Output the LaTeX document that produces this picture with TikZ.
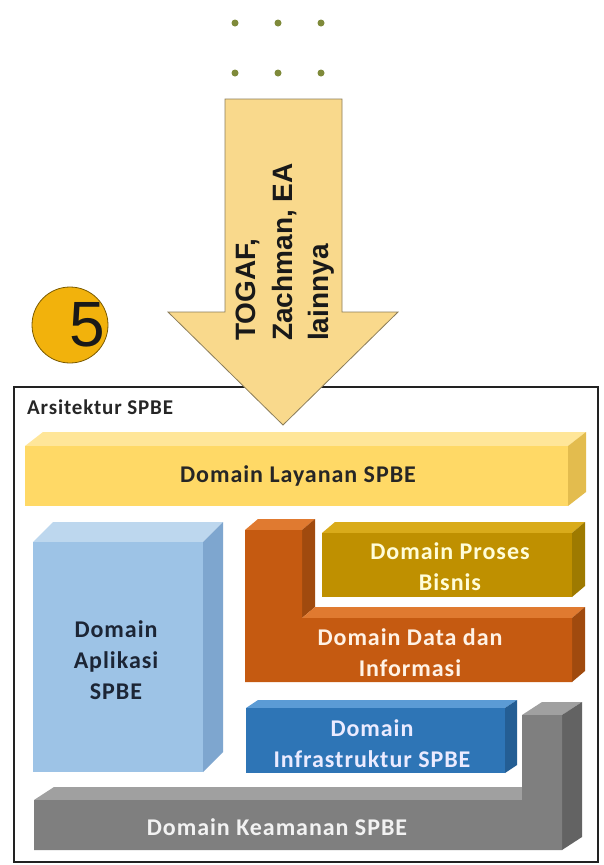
\documentclass[tikz,border=0pt]{standalone}
\usepackage{fontspec}
\setmainfont{Carlito}[LetterSpace=4]
\newfontfamily\arialf{Liberation Sans}
\usetikzlibrary{calc}

% palette
\definecolor{arrowfill}{HTML}{F9D98C}
\definecolor{arrowline}{HTML}{8B7D5A}
\definecolor{dotcol}{HTML}{7F8A3A}
\definecolor{badgefill}{HTML}{F2B20C}
\definecolor{badgeline}{HTML}{7A5A00}
\definecolor{frameline}{HTML}{222222}
\definecolor{navytext}{HTML}{1C2535}
\definecolor{layF}{HTML}{FFD966}\definecolor{layT}{HTML}{FFE699}\definecolor{layS}{HTML}{E3BC4E}
\definecolor{aplF}{HTML}{9DC3E6}\definecolor{aplT}{HTML}{BDD7EE}\definecolor{aplS}{HTML}{7EA6CF}
\definecolor{proF}{HTML}{BF9000}\definecolor{proT}{HTML}{D9AB1A}\definecolor{proS}{HTML}{9E7A00}
\definecolor{datF}{HTML}{C55A11}\definecolor{datT}{HTML}{E07A30}\definecolor{datS}{HTML}{A04A0E}
\definecolor{infF}{HTML}{2E75B6}\definecolor{infT}{HTML}{5B9BD5}\definecolor{infS}{HTML}{245E94}
\definecolor{keaF}{HTML}{7F7F7F}\definecolor{keaT}{HTML}{A0A0A0}\definecolor{keaS}{HTML}{636363}

% 3D slab: x1,y1 (front top-left), x2,y2 (front bottom-right), depth dx,dy, colour prefix
\newcommand{\slabbox}[7]{%
  \fill[#7T] (#1,#2) -- (#1+#5,#2-#6) -- (#3+#5,#2-#6) -- (#3,#2) -- cycle;
  \fill[#7S] (#3,#2) -- (#3+#5,#2-#6) -- (#3+#5,#4-#6) -- (#3,#4) -- cycle;
  \fill[#7F] (#1,#2) rectangle (#3,#4);
}

\tikzset{
  domtext/.style={font=\bfseries\fontsize{24}{31}\selectfont, align=center, inner sep=0pt},
  arrowtext/.style={font=\arialf\bfseries\fontsize{28}{30}\selectfont, rotate=90, anchor=base west, inner sep=0pt, text=black!90},
  dotstyle/.style={circle, fill=dotcol, minimum size=7pt, inner sep=0pt},
}

\begin{document}
\begin{tikzpicture}[x=1pt,y=-1pt]
\useasboundingbox (0,0) rectangle (603,865);
\fill[white] (0,0) rectangle (603,865);

% ellipsis dots
\foreach \i/\xx in {1/235,2/278,3/321}{
  \node[dotstyle] (dotA\i) at (\xx,23) {};
  \node[dotstyle] (dotB\i) at (\xx,73) {};
}

% outer frame
\draw[frameline, line width=1.6pt] (14,387) rectangle (598,862);
\node[font=\bfseries\fontsize{21}{25}\selectfont, anchor=base west, inner sep=0pt, text=black!85] (title) at (27,414) {Arsitektur SPBE};

% big arrow
\draw[arrowline, fill=arrowfill, line width=0.8pt]
  (225,99) -- (342,99) -- (342,312) -- (398,312) -- (283,425) -- (168,312) -- (225,312) -- cycle;
\node[arrowtext] (arrA) at (255,341) {TOGAF,};
\node[arrowtext] (arrB) at (292,341) {Zachman, EA};
\node[arrowtext] (arrC) at (328,341) {lainnya};

% badge
\node[circle, draw=badgeline, fill=badgefill, line width=0.8pt, minimum size=76pt, inner sep=0pt] (badge) at (70,325) {};
\node[font=\arialf\fontsize{64}{64}\selectfont, anchor=base, inner sep=0pt, text=black!90] (badgenum) at (87,346) {5};

% Domain Layanan
\slabbox{25}{446}{568}{506}{18}{14}{lay}
\node[domtext, text=black!85] (layanan) at (298,476) {Domain Layanan SPBE};

% Domain Aplikasi
\slabbox{33}{542}{203}{772}{20}{20}{apl}
\node[domtext, text=navytext] (aplikasi) at (116,660) {Domain\\Aplikasi\\SPBE};

% Domain Data dan Informasi (L-shape)
\fill[datT] (245,530) -- (258,519) -- (315,519) -- (302,530) -- cycle;
\fill[datS] (302,530) -- (315,519) -- (315,607) -- (302,618) -- cycle;
\fill[datT] (302,618) -- (315,607) -- (585,607) -- (572,618) -- cycle;
\fill[datS] (572,618) -- (585,607) -- (585,671) -- (572,682) -- cycle;
\fill[datF] (245,530) -- (302,530) -- (302,618) -- (572,618) -- (572,682) -- (245,682) -- cycle;
\node[domtext, text=orange!10] (data) at (410,653) {Domain Data dan\\Informasi};

% Domain Proses Bisnis
\slabbox{322}{533}{572}{597}{13}{11}{pro}
\node[domtext, text=yellow!15] (proses) at (450,567) {Domain Proses\\Bisnis};

% Domain Infrastruktur
\slabbox{246}{708}{505}{773}{12}{8}{inf}
\node[domtext, text=blue!8] (infra) at (372,744) {Domain\\Infrastruktur SPBE};

% Domain Keamanan (L-shape)
\fill[keaT] (34,800) -- (54,787) -- (522,787) -- (522,800) -- cycle;
\fill[keaT] (522,715) -- (542,702) -- (582,702) -- (562,715) -- cycle;
\fill[keaS] (562,715) -- (582,702) -- (582,837) -- (562,850) -- cycle;
\fill[keaF] (34,800) -- (522,800) -- (522,715) -- (562,715) -- (562,850) -- (34,850) -- cycle;
\node[domtext, text=white!95!black] (keamanan) at (277,827) {Domain Keamanan SPBE};

\end{tikzpicture}
\end{document}
